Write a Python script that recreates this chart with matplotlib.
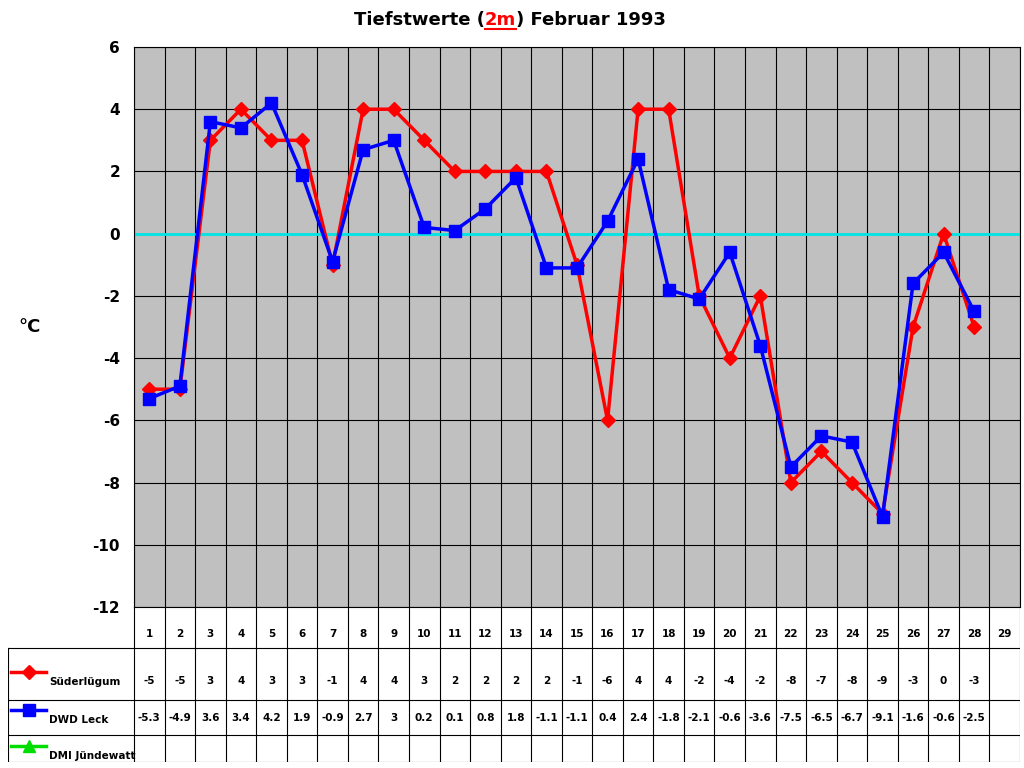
import matplotlib
matplotlib.use("Agg")
import matplotlib.pyplot as plt
import numpy as np

days = list(range(1, 30))
sued = [-5,-5,3,4,3,3,-1,4,4,3,2,2,2,2,-1,-6,4,4,-2,-4,-2,-8,-7,-8,-9,-3,0,-3]
leck = [-5.3,-4.9,3.6,3.4,4.2,1.9,-0.9,2.7,3,0.2,0.1,0.8,1.8,-1.1,-1.1,0.4,2.4,-1.8,-2.1,-0.6,-3.6,-7.5,-6.5,-6.7,-9.1,-1.6,-0.6,-2.5]
series_names = ["Süderlügum", "DWD Leck", "DMI Jündewatt"]
yticks = list(range(-12, 7, 2))

W, H = 1024, 768
fig = plt.figure(figsize=(10.24, 7.68), dpi=100)
x0, x1, yt, yb = 134, 1020, 47, 607
ax = fig.add_axes([x0/W, 1-yb/H, (x1-x0)/W, (yb-yt)/H])
ax.set_facecolor("#C0C0C0")
ax.set_xlim(0, 29); ax.set_ylim(-12, 6)
for i in range(30):
    ax.axvline(i, color="black", lw=0.8, zorder=1)
for y in yticks:
    ax.axhline(y, color="black", lw=0.8, zorder=1)
ax.axhline(0, color="#00E5E5", lw=2, zorder=2)
xs = np.arange(len(sued)) + 0.5
ax.plot(xs, sued, color="red", lw=2.5, marker="D", ms=7, zorder=3)
ax.plot(np.arange(len(leck)) + 0.5, leck, color="blue", lw=2.5, marker="s", ms=9, zorder=4)
ax.set_xticks([])
ax.set_yticks(yticks)
ax.set_yticklabels([str(v) for v in yticks], fontweight="bold", fontsize=11)
ax.tick_params(axis="y", length=0, pad=10)
for s in ax.spines.values():
    s.set_color("black")
fig.text(18/W, 1-327/H, "°C", fontweight="bold", fontsize=13, va="center")

# Title
t1 = fig.text(0, 1-20/H, "Tiefstwerte (", fontweight="bold", fontsize=13, va="center")
t2 = fig.text(0, 1-20/H, "2m", fontweight="bold", fontsize=13, va="center", color="red")
t3 = fig.text(0, 1-20/H, ") Februar 1993", fontweight="bold", fontsize=13, va="center")
r = fig.canvas.get_renderer()
ws = [t.get_window_extent(r).width for t in (t1, t2, t3)]
start = 510 - sum(ws)/2
t1.set_x(start/W); t2.set_x((start+ws[0])/W); t3.set_x((start+ws[0]+ws[1])/W)
fig.add_artist(plt.Line2D([(start+ws[0])/W, (start+ws[0]+ws[1])/W], [1-29/H]*2, color="red", lw=1.5))

# Data table
cw = (x1-x0)/29
lx = 8
tab = fig.add_axes([lx/W, 1-762/H, (x1-lx)/W, (762-607)/H])
tab.set_xlim(-(x0-lx)/cw, 29); tab.set_ylim(762, 607)
tab.axis("off")
rows = [648, 700, 735, 762]
for i in range(30):
    tab.plot([i, i], [607, 762], color="black", lw=0.8)
left = -(x0-lx)/cw
for y in rows:
    tab.plot([left, 29], [y, y], color="black", lw=0.8)
tab.plot([left, left], [648, 762], color="black", lw=0.8)
for d in days:
    tab.text(d-0.5, 634, str(d), ha="center", va="center", fontsize=7.5, fontweight="bold")
def fmt(v):
    return str(int(v)) if float(v).is_integer() else str(v)
for i, v in enumerate(sued):
    tab.text(i+0.5, 681, fmt(v), ha="center", va="center", fontsize=7.5, fontweight="bold")
for i, v in enumerate(leck):
    tab.text(i+0.5, 718, fmt(v), ha="center", va="center", fontsize=7.5, fontweight="bold")
mk = [("red", "D", 7, 672), ("blue", "s", 9, 710), ("#00DD00", "^", 8, 746)]
for (c, m, s, y), name in zip(mk, series_names):
    tab.plot([left+0.1, left+1.25], [y, y], color=c, lw=2.5)
    tab.plot([left+0.675], [y], color=c, marker=m, ms=s)
    tab.text(left+1.35, y+10, name, fontsize=7.5, fontweight="bold", va="center")

fig.savefig("out.png", dpi=100)
